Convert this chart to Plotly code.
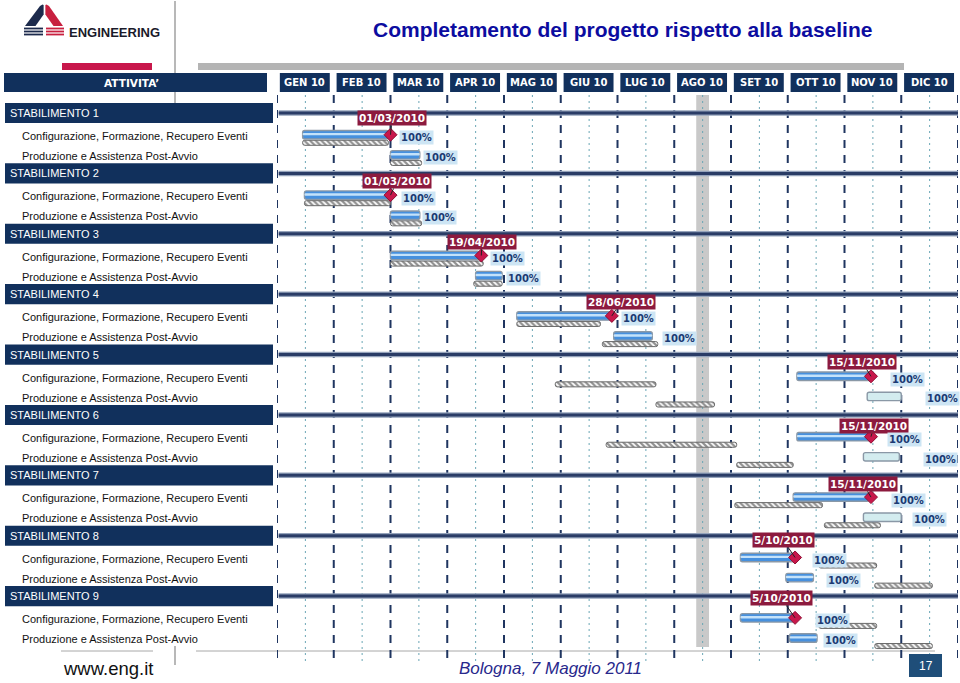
import calendar
import plotly.graph_objects as go

W, H = 960, 683

# ---------------- data ----------------
plants = ["STABILIMENTO 1", "STABILIMENTO 2", "STABILIMENTO 3", "STABILIMENTO 4", "STABILIMENTO 5",
          "STABILIMENTO 6", "STABILIMENTO 7", "STABILIMENTO 8", "STABILIMENTO 9"]
tasks = ["Configurazione, Formazione, Recupero Eventi", "Produzione e Assistenza Post-Avvio"]
months = ["GEN 10", "FEB 10", "MAR 10", "APR 10", "MAG 10", "GIU 10",
          "LUG 10", "AGO 10", "SET 10", "OTT 10", "NOV 10", "DIC 10"]

cfg_act_start = ["2010-01-15", "2010-01-16", "2010-03-01", "2010-05-08", "2010-10-06",
                 "2010-10-06", "2010-10-04", "2010-09-06", "2010-09-06"]
cfg_act_end = ["2010-02-28", "2010-03-01", "2010-04-18", "2010-06-28", "2010-11-15",
               "2010-11-15", "2010-11-14", "2010-10-05", "2010-10-05"]
cfg_base_start = ["2010-01-15", "2010-01-16", "2010-03-01", "2010-05-08", "2010-05-29",
                  "2010-06-25", "2010-09-03", "2010-10-18", "2010-10-18"]
cfg_base_end = ["2010-02-28", "2010-03-01", "2010-04-20", "2010-06-22", "2010-07-22",
                "2010-09-04", "2010-10-20", "2010-11-18", "2010-11-18"]
milestones = ["2010-03-01", "2010-03-01", "2010-04-19", "2010-06-28", "2010-11-15",
              "2010-11-15", "2010-11-15", "2010-10-05", "2010-10-05"]
milestone_labels = ["01/03/2010", "01/03/2010", "19/04/2010", "28/06/2010", "15/11/2010",
                    "15/11/2010", "15/11/2010", "5/10/2010", "5/10/2010"]

prd_act_start = ["2010-03-01", "2010-03-01", "2010-04-16", "2010-06-29", "2010-11-13",
                 "2010-11-11", "2010-11-11", "2010-09-30", "2010-10-02"]
prd_act_end = ["2010-03-17", "2010-03-17", "2010-04-30", "2010-07-20", "2010-12-01",
               "2010-11-30", "2010-12-01", "2010-10-15", "2010-10-17"]
prd_base_start = ["2010-03-01", "2010-03-01", "2010-04-15", "2010-06-23", "2010-07-22",
                  "2010-09-04", "2010-10-21", "2010-11-17", "2010-11-17"]
prd_base_end = ["2010-03-18", "2010-03-18", "2010-04-30", "2010-07-23", "2010-08-23",
                "2010-10-04", "2010-11-20", "2010-12-18", "2010-12-18"]
prd_started = [True, True, True, True, False, False, False, True, True]

cfg_pct = ["100%"] * 9
prd_pct = ["100%"] * 9

status_week = ("2010-08-13", "2010-08-20")

# ---------------- layout helpers ----------------
NAVY = "#11305c"
Y0, U = 113.0, 20.13          # pixel of first plant row, pixels per row unit


def mf(d):
    y, m, dd = (int(v) for v in d.split("-"))
    return (m - 1) + (dd - 1) / calendar.monthrange(y, m)[1]


def hdr(g):
    return 3 * g


def cfg(g):
    return 3 * g + 1.08


def prd(g):
    return 3 * g + 2.08


def yu(p):
    return (p - Y0) / U


def px(x):
    return x / W


def py(y):
    return 1 - y / H


n = len(plants)
fig = go.Figure()


def add_bars(starts, ends, ys, width, color, line_color, line_width, pattern=None):
    marker = dict(color=color, line=dict(color=line_color, width=line_width))
    if pattern:
        marker["pattern"] = pattern
    fig.add_trace(go.Bar(orientation="h", base=[mf(s) for s in starts],
                         x=[mf(e) - mf(s) for s, e in zip(starts, ends)],
                         y=ys, width=width, marker=marker,
                         hoverinfo="skip", showlegend=False))


hatch = dict(shape="\\", fgcolor="#222222", bgcolor="white", size=4, solidity=0.55, fillmode="overlay")

# baselines
add_bars(cfg_base_start, cfg_base_end, [cfg(g) + 0.40 for g in range(n)], 0.25,
         "white", "#6a6a6a", 1, hatch)
add_bars(prd_base_start, prd_base_end, [prd(g) + 0.40 for g in range(n)], 0.25,
         "white", "#6a6a6a", 1, hatch)

# actual bars
add_bars(cfg_act_start, cfg_act_end, [cfg(g) for g in range(n)], 0.42,
         "#4690de", "#8a98a6", 1.4)
add_bars(cfg_act_start, cfg_act_end, [cfg(g) - 0.03 for g in range(n)], 0.12,
         "#c4e2fa", "#c4e2fa", 0)
add_bars(prd_act_start, prd_act_end, [prd(g) for g in range(n)], 0.42,
         ["#4690de" if s else "#d3ecef" for s in prd_started], "#8a98a6", 1.4)
idx = [g for g in range(n) if prd_started[g]]
add_bars([prd_act_start[g] for g in idx], [prd_act_end[g] for g in idx],
         [prd(g) - 0.03 for g in idx], 0.12, "#c4e2fa", "#c4e2fa", 0)

# milestones
fig.add_trace(go.Scatter(x=[mf(d) for d in milestones], y=[cfg(g) for g in range(n)],
                         mode="markers", hoverinfo="skip", showlegend=False,
                         marker=dict(symbol="diamond", size=10, color="#c8174b",
                                     line=dict(color="#8d0f33", width=1))))

shapes = []
ann = []

# slide template
shapes.append(dict(type="rect", xref="paper", yref="paper", x0=px(62), x1=px(152), y0=py(70), y1=py(63),
                   fillcolor="#c8174b", line=dict(width=0), layer="below"))
shapes.append(dict(type="rect", xref="paper", yref="paper", x0=px(198), x1=px(904), y0=py(70), y1=py(63),
                   fillcolor="#b4b4b4", line=dict(width=0), layer="below"))
for a, b in [(1, 103), (646, 665)]:
    shapes.append(dict(type="line", xref="paper", yref="paper", x0=px(175), x1=px(175), y0=py(a), y1=py(b),
                       line=dict(color="#a0a0a0", width=1.5), layer="below"))
for a, b in [(61, 153), (196, 935)]:
    shapes.append(dict(type="line", xref="paper", yref="paper", x0=px(a), x1=px(b), y0=py(651), y1=py(651),
                       line=dict(color="#a8a8a8", width=1), layer="below"))

# logo
def path(pts):
    return "M " + " L ".join(f"{px(x):.5f},{py(y):.5f}" for x, y in pts) + " Z"


shapes.append(dict(type="path", xref="paper", yref="paper",
                   path=path([(25, 26), (40, 6), (42.5, 4.5), (43.6, 5), (43.6, 14.5), (35.5, 26)]),
                   fillcolor="#1c2a4c", line=dict(width=0), layer="below"))
shapes.append(dict(type="path", xref="paper", yref="paper",
                   path=path([(45.4, 5), (46.5, 4.5), (49, 6), (63, 26), (53.5, 26), (45.4, 14.5)]),
                   fillcolor="#c8203f", line=dict(width=0), layer="below"))
for yy in (28.5, 31.5, 34.5):
    shapes.append(dict(type="line", xref="paper", yref="paper", x0=px(24), x1=px(43), y0=py(yy), y1=py(yy),
                       line=dict(color="#1c2a4c", width=1.8), layer="below"))
    shapes.append(dict(type="line", xref="paper", yref="paper", x0=px(46), x1=px(64), y0=py(yy), y1=py(yy),
                       line=dict(color="#c8203f", width=1.8), layer="below"))
ann.append(dict(xref="paper", yref="paper", x=px(67), y=py(32), xanchor="left", yanchor="middle",
                text="<b>ENGINEERING</b>", showarrow=False,
                font=dict(family="Liberation Sans, Arial", size=13, color="#1a1a2a")))

# title
ann.append(dict(xref="paper", yref="paper", x=px(622), y=py(29), xanchor="center", yanchor="middle",
                text="<b>Completamento del progetto rispetto alla baseline</b>", showarrow=False,
                font=dict(family="Liberation Sans, Arial", size=21, color="#0c0ca0")))

# header boxes
shapes.append(dict(type="rect", xref="paper", yref="paper", x0=px(4), x1=px(267), y0=py(92), y1=py(73),
                   fillcolor=NAVY, line=dict(width=0), layer="below"))
ann.append(dict(xref="paper", yref="paper", x=px(131), y=py(82.5), xanchor="center", yanchor="middle",
                text="<b>ATTIVITA’</b>", showarrow=False,
                font=dict(family="DejaVu Sans, Verdana", size=10.5, color="white")))
for m, lab in enumerate(months):
    shapes.append(dict(type="rect", xref="x", yref="paper", x0=m + 0.05, x1=m + 0.93, y0=py(92), y1=py(73),
                       fillcolor=NAVY, line=dict(width=0), layer="below"))
    ann.append(dict(xref="x", yref="paper", x=m + 0.49, y=py(82.5), xanchor="center", yanchor="middle",
                    text=f"<b>{lab}</b>", showarrow=False,
                    font=dict(family="DejaVu Sans, Verdana", size=10, color="white")))

# status band and grid
shapes.append(dict(type="rect", xref="x", yref="paper", x0=mf(status_week[0]), x1=mf(status_week[1]),
                   y0=py(647), y1=py(95), fillcolor="#c9c9c9", line=dict(width=0), layer="below"))
for m in range(12):
    shapes.append(dict(type="line", xref="x", yref="paper", x0=m + 0.5, x1=m + 0.5, y0=py(95), y1=py(664),
                       line=dict(color="#6aa6b5", width=1, dash="2px,4px"), layer="below"))
for m in range(13):
    shapes.append(dict(type="line", xref="x", yref="paper", x0=m, x1=m, y0=py(95), y1=py(664),
                       line=dict(color="#1f3560", width=2, dash="8px,7px"), layer="below"))

# plant separators and table
for g, name in enumerate(plants):
    shapes.append(dict(type="line", xref="x", yref="y", x0=0.03, x1=12, y0=hdr(g), y1=hdr(g),
                       line=dict(color="#95a3bb", width=5.5), layer="below"))
    shapes.append(dict(type="line", xref="x", yref="y", x0=0.03, x1=12, y0=hdr(g), y1=hdr(g),
                       line=dict(color="#2a3c66", width=3), layer="below"))
    shapes.append(dict(type="rect", xref="paper", yref="y", x0=px(5), x1=px(273),
                       y0=hdr(g) - 0.5, y1=hdr(g) + 0.5, fillcolor=NAVY, line=dict(width=0), layer="below"))
    ann.append(dict(xref="paper", yref="y", x=px(8), y=hdr(g), xanchor="left", yanchor="middle",
                    text=name, showarrow=False,
                    font=dict(family="Liberation Sans, Arial", size=11, color="white")))
    for ty, t in zip((cfg(g), prd(g)), tasks):
        ann.append(dict(xref="paper", yref="y", x=px(20), y=ty + 0.06, xanchor="left", yanchor="middle",
                        text=t, showarrow=False,
                        font=dict(family="Liberation Sans, Arial", size=11, color="#111111")))

# milestone date labels
ms_dx = [1.5, 6.5, 0.7, 9, -9, 3, -8, -12, -14]
ms_dy = [-16.7, -14.1, -13.5, -13.9, -14.3, -10.7, -13.1, -17.5, -19.9]
for g in range(n):
    ann.append(dict(xref="x", yref="y", x=mf(milestones[g]), y=cfg(g), ax=ms_dx[g], ay=ms_dy[g],
                    text=f"<b>{milestone_labels[g]}</b>", showarrow=True, arrowhead=0,
                    arrowwidth=1, arrowcolor="#222222", standoff=0, bgcolor="#8c1a3e", borderpad=1,
                    font=dict(family="DejaVu Sans, Verdana", size=10.5, color="white")))

# percentage labels
cfg_shift = [8, 10, 9, 9, 19, 16, 20, 17, 20]
prd_shift = [3, 2, 4, 10, 24, 24, 11, 13, 6]
pct_font = dict(family="DejaVu Sans, Verdana", size=10, color="#1b3a73")
for g in range(n):
    ann.append(dict(xref="x", yref="y", x=mf(milestones[g]), y=cfg(g) + 0.15, xanchor="left",
                    yanchor="middle", xshift=cfg_shift[g], text=f"<b>{cfg_pct[g]}</b>", showarrow=False,
                    bgcolor="#cde5f4", borderpad=1, font=pct_font))
    ann.append(dict(xref="x", yref="y", x=mf(prd_act_end[g]), y=prd(g) + 0.12, xanchor="left",
                    yanchor="middle", xshift=prd_shift[g], text=f"<b>{prd_pct[g]}</b>", showarrow=False,
                    bgcolor="#cde5f4", borderpad=1, font=pct_font))

# footer
ann.append(dict(xref="paper", yref="paper", x=px(61), y=py(668), xanchor="left", yanchor="middle",
                text="www.eng.it", showarrow=False,
                font=dict(family="Liberation Sans Narrow, Arial Narrow, Liberation Sans", size=18.5, color="#111111")))
ann.append(dict(xref="paper", yref="paper", x=px(550), y=py(668), xanchor="center", yanchor="middle",
                text="<i>Bologna, 7 Maggio 2011</i>", showarrow=False,
                font=dict(family="Liberation Sans, Arial", size=17, color="#28288c")))
shapes.append(dict(type="rect", xref="paper", yref="paper", x0=px(909), x1=px(942), y0=py(677), y1=py(654),
                   fillcolor="#1f4e79", line=dict(width=0), layer="below"))
ann.append(dict(xref="paper", yref="paper", x=px(925.5), y=py(665.5), xanchor="center", yanchor="middle",
                text="17", showarrow=False,
                font=dict(family="Liberation Sans Narrow, Liberation Sans", size=12, color="white")))

fig.update_layout(
    width=W, height=H, margin=dict(l=0, r=0, t=0, b=0),
    paper_bgcolor="white", plot_bgcolor="white",
    barmode="overlay", barcornerradius=2, showlegend=False,
    xaxis=dict(domain=[px(277), px(958)], range=[0, 12], visible=False, fixedrange=True),
    yaxis=dict(domain=[0, 1], range=[yu(H), yu(0)], visible=False, fixedrange=True),
    shapes=shapes, annotations=ann,
)

fig.write_html("out.html", config={"displayModeBar": False})
